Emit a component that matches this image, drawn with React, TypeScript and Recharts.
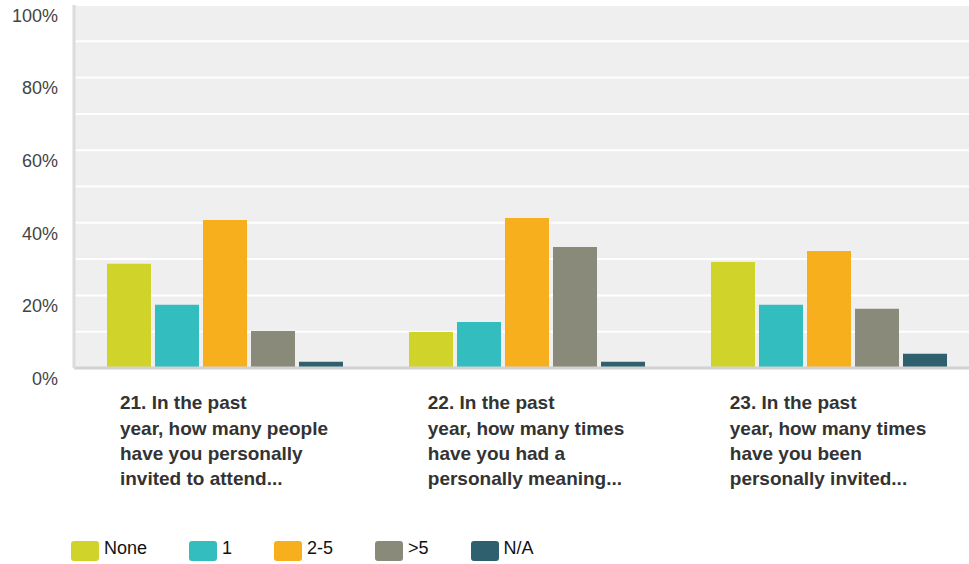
import React from 'react';
import { BarChart, Bar, XAxis, YAxis, CartesianGrid, Legend } from 'recharts';

const questions = [
  '21. In the past\nyear, how many people\nhave you personally\ninvited to attend...',
  '22. In the past\nyear, how many times\nhave you had a\npersonally meaning...',
  '23. In the past\nyear, how many times\nhave you been\npersonally invited...',
];

const noneValues = [28.7, 9.9, 29.2];
const oneValues = [17.4, 12.7, 17.4];
const twoToFiveValues = [40.8, 41.3, 32.2];
const overFiveValues = [10.2, 33.3, 16.3];
const naValues = [1.7, 1.7, 3.9];

const yTicks = [0, 10, 20, 30, 40, 50, 60, 70, 80, 90, 100];

const series = [
  { key: 'none', name: 'None', color: '#D0D42A' },
  { key: 'one', name: '1', color: '#33BDBF' },
  { key: 'twoToFive', name: '2-5', color: '#F7AF1E' },
  { key: 'overFive', name: '>5', color: '#8A8A7A' },
  { key: 'na', name: 'N/A', color: '#2F606E' },
];

const data = questions.map((q, i) => ({
  question: q,
  none: noneValues[i],
  one: oneValues[i],
  twoToFive: twoToFiveValues[i],
  overFive: overFiveValues[i],
  na: naValues[i],
}));

const FONT = '"Liberation Sans", Arial, Helvetica, sans-serif';

let measureCtx: CanvasRenderingContext2D | null = null;
const measure = (text: string, font: string) => {
  if (!measureCtx) measureCtx = document.createElement('canvas').getContext('2d');
  if (!measureCtx) return text.length * 9;
  measureCtx.font = font;
  return measureCtx.measureText(text).width;
};

const QuestionTick = (props: any) => {
  const { x, y, payload } = props;
  const lines: string[] = String(payload.value).split('\n');
  const maxW = Math.max(...lines.map((l) => measure(l, `bold 19px ${FONT}`)));
  const left = x - maxW / 2 - 1;
  return (
    <g>
      {lines.map((line, i) => (
        <text
          key={i}
          x={left}
          y={y + 34.5 + i * 25.3}
          dy="0.355em"
          textAnchor="start"
          fontFamily={FONT}
          fontWeight="bold"
          fontSize={19}
          fill="#333"
        >
          {line}
        </text>
      ))}
    </g>
  );
};

const PercentTick = (props: any) => {
  const { x, y, payload } = props;
  if (payload.value % 20 !== 0) return <g />;
  return (
    <text x={x} y={y + 10.5} dy="0.355em" textAnchor="end" fontFamily={FONT} fontSize={18} fill="#444">
      {payload.value}%
    </text>
  );
};

const LegendContent = () => (
  <div style={{ display: 'flex', alignItems: 'center', height: 30, fontFamily: FONT, fontSize: 18, color: '#111' }}>
    {series.map((s) => (
      <div key={s.key} style={{ display: 'flex', alignItems: 'center', marginRight: 42 }}>
        <span style={{ width: 28, height: 20, borderRadius: 3, background: s.color, marginRight: 5, display: 'inline-block' }} />
        <span style={{ position: 'relative', top: -3 }}>{s.name}</span>
      </div>
    ))}
  </div>
);

const App: React.FC = () => {
  return (
    <div style={{ position: 'absolute', left: 0, top: 0, width: 969, height: 564, overflow: 'hidden', background: '#fff' }}>
      <BarChart
        width={980}
        height={564}
        data={data}
        margin={{ top: 5, right: 0, left: 0, bottom: 0 }}
        barSize={44}
        barGap={4}
      >
        <CartesianGrid vertical={false} fill="#EFEFEF" stroke="#FFFFFF" strokeWidth={2} />
        <XAxis
          dataKey="question"
          height={166}
          tickLine={false}
          tickSize={0}
          tickMargin={0}
          interval={0}
          axisLine={{ stroke: '#D2D2D2', strokeWidth: 3 }}
          tick={<QuestionTick />}
        />
        <YAxis
          width={74}
          domain={[0, 100]}
          ticks={yTicks}
          interval={0}
          tickLine={false}
          tickSize={0}
          tickMargin={16}
          axisLine={{ stroke: '#DCDCDC', strokeWidth: 3 }}
          tick={<PercentTick />}
        />
        <Legend
          verticalAlign="bottom"
          align="left"
          content={<LegendContent />}
          wrapperStyle={{ left: 71, bottom: -2, width: 'auto' }}
        />
        {series.map((s) => (
          <Bar key={s.key} dataKey={s.key} name={s.name} fill={s.color} isAnimationActive={false} />
        ))}
      </BarChart>
    </div>
  );
};

export default App;
